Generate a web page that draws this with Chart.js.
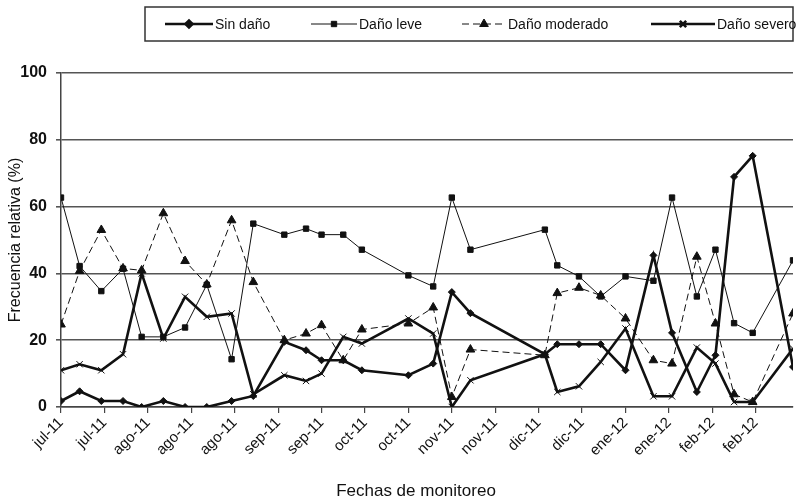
<!DOCTYPE html>
<html>
<head>
<meta charset="utf-8">
<script src="https://cdn.jsdelivr.net/npm/chart.js@4.4.0/dist/chart.umd.min.js"></script>
<style>
    html, body { margin: 0; padding: 0; background: #fff; }
    #wrap { width: 799px; height: 503px; }
</style>
</head>
<body>
<div id="wrap"><canvas id="grafico" width="799" height="503"></canvas></div>
<script>
// Días de monitoreo (desde el primer muestreo, jul-11)
const dias = [0, 6, 13, 20, 26, 33, 40, 47, 55, 62, 72, 79, 84, 91, 97, 112, 120, 126, 132, 156, 160, 167, 174, 182, 191, 197, 205, 211, 217, 223, 236];

// Etiquetas del eje X (una cada 14 días)
const etiquetasFechas = ['jul-11', 'jul-11', 'ago-11', 'ago-11', 'ago-11', 'sep-11', 'sep-11', 'oct-11', 'oct-11', 'nov-11', 'nov-11', 'dic-11', 'dic-11', 'ene-12', 'ene-12', 'feb-12', 'feb-12'];
const pasoEtiqueta = 14;

// Frecuencia relativa (%) por categoría de daño
const sinDano = [1.8, 4.7, 1.8, 1.8, 0, 1.8, 0, 0, 1.8, 3.3, 19.5, 17, 14, 14, 11, 9.5, 13, 34.4, 28.1, 15.8, 18.8, 18.8, 18.8, 11, 45.4, 22.2, 4.5, 15.5, 68.9, 75.2, 12];
const danoLeve = [62.7, 42.2, 34.7, 41.4, 21, 21, 23.8, 36.6, 14.3, 54.9, 51.6, 53.4, 51.6, 51.6, 47.1, 39.4, 36.1, 62.7, 47.1, 53.1, 42.4, 39.1, 33.1, 39.1, 37.8, 62.7, 33.1, 47.1, 25.1, 22.2, 43.9];
const danoModerado = [24.7, 40.7, 53, 41.5, 40.9, 58, 43.7, 36.7, 55.9, 37.4, 20, 22, 24.5, 14, 23.2, 25, 29.8, 3, 17.2, 15.5, 34.1, 35.7, 33.4, 26.5, 14, 13, 45, 25, 3.8, 1.5, 28];
const danoSevero = [11, 12.8, 11, 15.8, 40, 20.5, 33, 27, 28, 3.8, 9.5, 7.8, 10, 21, 19, 26.5, 22, 0, 8, 15.8, 4.5, 6.2, 13.5, 23.5, 3.2, 3.2, 17.8, 13, 1.5, 1.5, 17.5];

const ticksY = [0, 20, 40, 60, 80, 100];

function puntos(valores) {
    return valores.map((v, i) => ({ x: dias[i], y: v }));
}

const negro = '#111';
const fuente = '"Liberation Sans", Arial, sans-serif';

const series = [
    { label: 'Sin daño', data: puntos(sinDano), borderWidth: 2.6, pointStyle: 'rectRot', pointRadius: 3.5, dash: [] },
    { label: 'Daño leve', data: puntos(danoLeve), borderWidth: 1, pointStyle: 'rect', pointRadius: 3.8, dash: [] },
    { label: 'Daño moderado', data: puntos(danoModerado), borderWidth: 1, pointStyle: 'triangle', pointRadius: 5, dash: [7, 4] },
    { label: 'Daño severo', data: puntos(danoSevero), borderWidth: 2.6, pointStyle: 'crossRot', pointRadius: 4.5, dash: [] }
];

// Leyenda con recuadro y título del eje X, dibujados a mano
const leyendaRecuadro = {
    id: 'leyendaRecuadro',
    afterDraw(chart) {
        const ctx = chart.ctx;
        const caja = { x: 145, y: 7, w: 648, h: 34 };
        ctx.save();
        ctx.strokeStyle = '#333';
        ctx.lineWidth = 1.5;
        ctx.strokeRect(caja.x, caja.y, caja.w, caja.h);
        const cy = caja.y + caja.h / 2;
        const items = [[165, 48], [311, 46], [462, 44], [651, 64]];
        ctx.font = '14px ' + fuente;
        ctx.textBaseline = 'middle';
        ctx.fillStyle = negro;
        chart.data.datasets.forEach((ds, i) => {
            const [x0, largo] = items[i];
            ctx.strokeStyle = negro;
            ctx.lineWidth = ds.borderWidth;
            ctx.setLineDash(ds.borderDash || []);
            ctx.beginPath();
            ctx.moveTo(x0, cy);
            ctx.lineTo(x0 + largo, cy);
            ctx.stroke();
            ctx.setLineDash([]);
            Chart.helpers.drawPoint(ctx, {
                pointStyle: ds.pointStyle,
                radius: ds.pointRadius,
                borderWidth: 1,
                rotation: 0
            }, x0 + largo / 2, cy);
            ctx.fillText(ds.label, x0 + largo + 2, cy + 1);
        });

        ctx.font = '17px ' + fuente;
        ctx.textAlign = 'center';
        ctx.textBaseline = 'middle';
        ctx.fillText('Fechas de monitoreo', 416, 491);
        ctx.restore();
    }
};

new Chart(document.getElementById('grafico').getContext('2d'), {
    type: 'line',
    data: {
        datasets: series.map(s => ({
            label: s.label,
            data: s.data,
            borderColor: negro,
            backgroundColor: negro,
            borderWidth: s.borderWidth,
            borderDash: s.dash,
            pointStyle: s.pointStyle,
            pointRadius: s.pointRadius,
            pointBorderColor: negro,
            pointBackgroundColor: negro,
            pointBorderWidth: 1,
            tension: 0,
            fill: false
        }))
    },
    options: {
        responsive: false,
        animation: false,
        events: [],
        layout: { padding: { top: 73, right: 2, bottom: 0, left: 0 } },
        plugins: {
            legend: { display: false },
            tooltip: { enabled: false }
        },
        scales: {
            x: {
                type: 'linear',
                min: dias[0],
                max: dias[dias.length - 1],
                afterBuildTicks(scale) {
                    scale.ticks = etiquetasFechas.map((_, i) => ({ value: i * pasoEtiqueta }));
                },
                afterFit(scale) { scale.height = 96; },
                ticks: {
                    autoSkip: false,
                    minRotation: 45,
                    maxRotation: 45,
                    padding: 1,
                    color: negro,
                    font: { family: fuente, size: 15 },
                    callback: (v, i) => etiquetasFechas[i]
                },
                grid: { drawOnChartArea: false, drawTicks: true, tickLength: 6, color: '#444', lineWidth: 1.2 },
                border: { color: '#444', width: 1.5 }
            },
            y: {
                min: 0,
                max: 100,
                afterBuildTicks(scale) {
                    scale.ticks = ticksY.map(v => ({ value: v }));
                },
                afterFit(scale) { scale.width = 61; },
                ticks: {
                    padding: 9,
                    color: negro,
                    font: { family: fuente, size: 16, weight: 'bold' }
                },
                grid: { color: '#555', lineWidth: 1.6, tickLength: 5 },
                border: { color: '#444', width: 1.5 },
                title: {
                    display: true,
                    text: 'Frecuencia relativa (%)',
                    color: negro,
                    font: { family: fuente, size: 16 },
                    padding: { top: 6, bottom: 0 }
                }
            }
        }
    },
    plugins: [leyendaRecuadro]
});
</script>
</body>
</html>
